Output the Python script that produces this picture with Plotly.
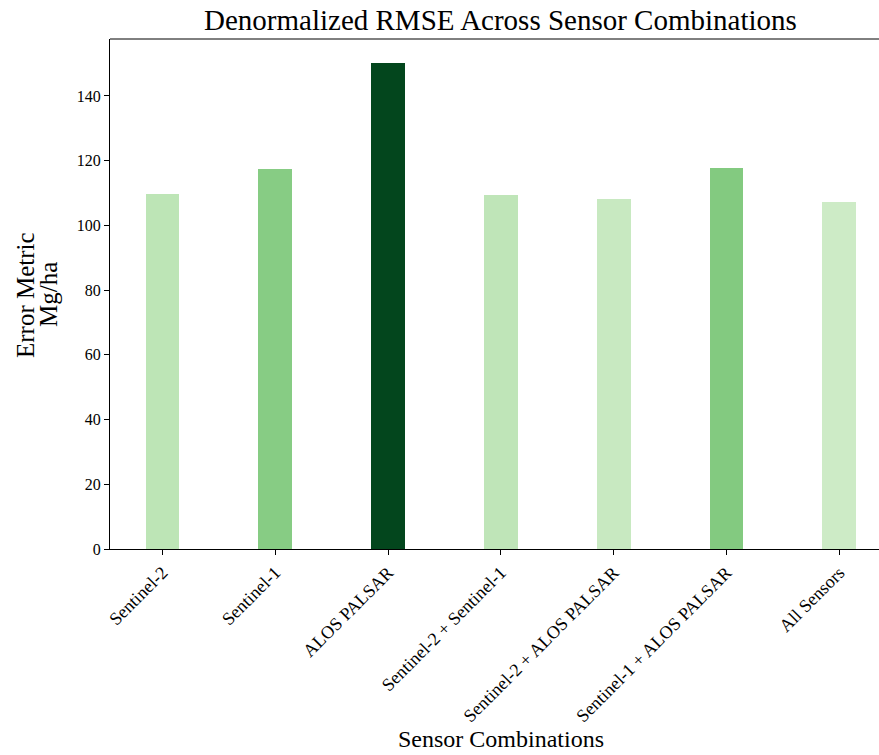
import plotly.graph_objects as go

categories = ["Sentinel-2", "Sentinel-1", "ALOS PALSAR", "Sentinel-2 + Sentinel-1",
              "Sentinel-2 + ALOS PALSAR", "Sentinel-1 + ALOS PALSAR", "All Sensors"]
rmse = [109.7, 117.3, 150.3, 109.3, 108.3, 117.8, 107.2]
bar_colors = ["#bde5b6", "#87cc84", "#03461d", "#bfe5b8", "#c8e9c1", "#83ca80", "#cdebc6"]
y_ticks = [0, 20, 40, 60, 80, 100, 120, 140]

FONT = "Liberation Serif, Times New Roman, serif"

fig = go.Figure()
fig.add_trace(go.Bar(
    x=list(range(len(categories))), y=rmse, width=0.3,
    marker=dict(color=bar_colors, line=dict(width=0)),
))

L, R, T, B = 110, 0, 39, 206
W, H = 879, 755
pw = W - L - R
ph = H - T - B

fig.update_layout(
    width=W, height=H,
    margin=dict(l=L, r=R, t=T, b=B, pad=0),
    plot_bgcolor="white", paper_bgcolor="white",
    showlegend=False, bargap=0,
    font=dict(family=FONT, color="black", size=16),
    xaxis=dict(
        range=[-0.465, -0.465 + pw / 112.8],
        tickmode="array", tickvals=list(range(len(categories))), ticktext=categories,
        tickangle=-45, ticks="outside", ticklen=5, tickwidth=1, tickcolor="black",
        showline=True, linecolor="black", linewidth=1, showgrid=False, zeroline=False,
        tickfont=dict(family=FONT, size=18, color="black"), automargin=False,
    ),
    yaxis=dict(
        range=[0, 157.6], tickmode="array", tickvals=y_ticks,
        ticks="outside", ticklen=5, tickwidth=1, tickcolor="black",
        showline=True, linecolor="black", linewidth=1, showgrid=False, zeroline=False,
        tickfont=dict(family=FONT, size=16, color="black"), automargin=False,
    ),
)

# top spine
fig.add_shape(type="line", xref="paper", yref="paper", x0=0, x1=1, y0=1, y1=1,
              line=dict(color="black", width=1))

# title
fig.add_annotation(text="Denormalized RMSE Across Sensor Combinations",
                   xref="paper", yref="paper", x=(500.7 - L) / pw, y=(549 - 20) / ph,
                   xanchor="center", yanchor="middle", showarrow=False,
                   font=dict(family=FONT, size=29, color="black"))
# x title
fig.add_annotation(text="Sensor Combinations",
                   xref="paper", yref="paper", x=(500.7 - L) / pw, y=(549 - 739) / ph,
                   xanchor="center", yanchor="middle", showarrow=False,
                   font=dict(family=FONT, size=24, color="black"))
# y title (two lines, placed individually)
fig.add_annotation(text="Error Metric",
                   xref="paper", yref="paper", x=(25 - L) / pw, y=(549 - 295) / ph,
                   xanchor="center", yanchor="middle", showarrow=False, textangle=-90,
                   font=dict(family=FONT, size=25, color="black"))
fig.add_annotation(text="Mg/ha",
                   xref="paper", yref="paper", x=(48 - L) / pw, y=(549 - 295) / ph,
                   xanchor="center", yanchor="middle", showarrow=False, textangle=-90,
                   font=dict(family=FONT, size=25, color="black"))

fig.write_html("out.html", config={"displayModeBar": False},
               post_script="document.body.style.margin='0';document.body.style.overflow='hidden';")
